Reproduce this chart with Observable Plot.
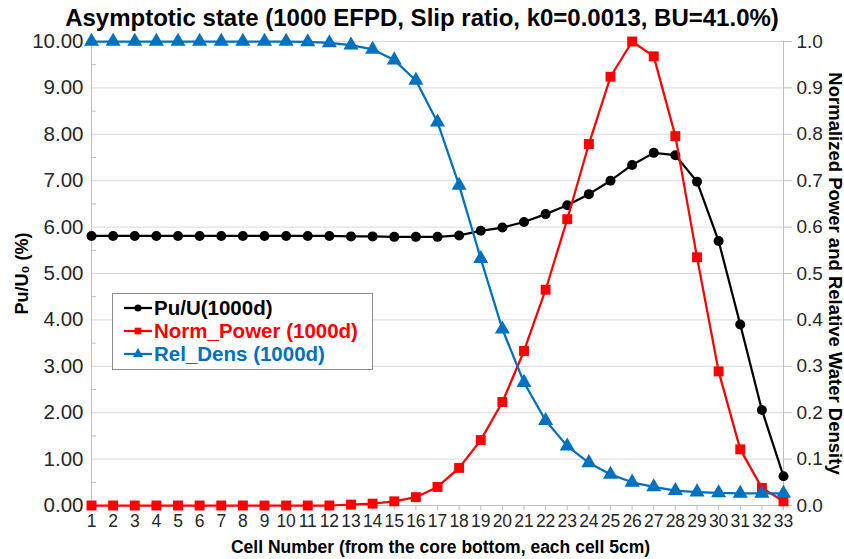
<!DOCTYPE html>
<html>
<head>
<meta charset="utf-8">
<script src="https://cdn.jsdelivr.net/npm/d3@7"></script>
<script src="https://cdn.jsdelivr.net/npm/@observablehq/plot@0.6"></script>
<style>
  body { margin: 0; background: #fff; font-family: "Liberation Sans", Arial, sans-serif; }
  #wrap { position: relative; width: 844px; }
  #title { height: 30px; line-height: 35px; text-align: center; font-weight: bold; font-size: 24px; color: #000; white-space: nowrap; }
  #legend { position: absolute; left: 112px; top: 293px; width: 259px; height: 73px; border: 1px solid #8c8c8c; background: #fff; padding-top: 2px; box-sizing: content-box; }
  .row { height: 23px; display: flex; align-items: center; font-weight: bold; font-size: 20.5px; padding-left: 10px; white-space: nowrap; }
  .row svg { margin-right: 1px; }
</style>
</head>
<body>
<div id="wrap">
  <div id="title">Asymptotic state (1000 EFPD, Slip ratio, k0=0.0013, BU=41.0%)</div>
  <div id="chart"></div>
  <div id="legend"></div>
</div>
<script>
// ---- data ----
const cells = [1,2,3,4,5,6,7,8,9,10,11,12,13,14,15,16,17,18,19,20,21,22,23,24,25,26,27,28,29,30,31,32,33];
const puU = [5.81,5.81,5.81,5.81,5.81,5.81,5.81,5.81,5.81,5.81,5.81,5.81,5.80,5.80,5.79,5.79,5.79,5.82,5.92,5.99,6.11,6.28,6.47,6.71,7.00,7.34,7.60,7.55,6.98,5.70,3.90,2.06,0.63];
const normPower = [0,0,0,0,0,0,0,0,0,0,0,0,0.002,0.004,0.009,0.018,0.040,0.081,0.141,0.223,0.333,0.465,0.617,0.779,0.924,1.000,0.968,0.796,0.535,0.289,0.121,0.038,0.009];
const relDens = [1,1,1,1,1,1,1,1,1,1,0.999,0.997,0.992,0.983,0.960,0.916,0.826,0.690,0.532,0.380,0.265,0.183,0.128,0.092,0.067,0.050,0.040,0.032,0.029,0.027,0.026,0.026,0.026];
const leftTicks = [0,1,2,3,4,5,6,7,8,9,10];
const leftMinor = [0.5,1.5,2.5,3.5,4.5,5.5,6.5,7.5,8.5,9.5];
const rightTickLabels = ["0.0","0.1","0.2","0.3","0.4","0.5","0.6","0.7","0.8","0.9","1.0"];
const seriesNames = ["Pu/U(1000d)", "Norm_Power (1000d)", "Rel_Dens (1000d)"];
const colors = ["#000000", "#ff0000", "#0070c0"];
const xDomain = [1, 33];
const yDomain = [0, 10];
const titleX = "Cell Number (from the core bottom, each cell 5cm)";
const titleYL = "Pu/U\u2080 (%)";
const titleYR = "Normalized Power and Relative Water Density";

// ---- tables ----
const tPu = cells.map((c, i) => ({c, v: puU[i]}));
const tPow = cells.map((c, i) => ({c, v: normPower[i] * 10}));   // secondary axis -> primary units
const tDen = cells.map((c, i) => ({c, v: relDens[i] * 10}));

const font = "Liberation Sans, Arial, sans-serif";
const axisGray = "#bfbfbf";
const gridGray = "#d9d9d9";

const chart = Plot.plot({
  width: 844,
  height: 529,
  marginTop: 11,
  marginBottom: 54,
  marginLeft: 91,
  marginRight: 61,
  style: {fontFamily: font, fontSize: "16px", color: "#000", background: "#fff", overflow: "visible"},
  x: {domain: xDomain, axis: null},
  y: {domain: yDomain, axis: null},
  marks: [
    Plot.gridY(leftTicks, {stroke: gridGray, strokeOpacity: 1, strokeWidth: 1}),
    Plot.ruleX(xDomain, {stroke: axisGray, strokeWidth: 1}),
    Plot.ruleY([yDomain[0]], {stroke: axisGray, strokeWidth: 1}),
    // left axis
    Plot.axisY(leftTicks, {anchor: "left", tickSize: 0, tickPadding: 8, tickFormat: d => d.toFixed(2), fontSize: 20.5, fill: "#262626", label: null}),
    Plot.axisY(leftMinor, {anchor: "left", tickSize: -5, text: null, stroke: axisGray, label: null}),
    // right axis
    Plot.axisY(leftTicks, {anchor: "right", tickSize: 8, text: null, stroke: axisGray, label: null}),
    Plot.axisY(leftTicks, {anchor: "right", tickSize: 0, tickPadding: 13, tickFormat: d => rightTickLabels[d], fontSize: 19, fill: "#262626", label: null}),
    // x axis
    Plot.axisX(cells, {anchor: "bottom", tickSize: 5, text: null, stroke: axisGray, label: null}),
    Plot.axisX(cells, {anchor: "bottom", tickSize: 0, tickPadding: 9, tickFormat: d => String(d), fontSize: 17.5, fill: "#262626", label: null}),
    // axis titles
    Plot.text([titleX], {text: d => d, frameAnchor: "bottom", textAnchor: "middle", lineAnchor: "middle", dy: 42, dx: 3, fontWeight: "bold", fontSize: 17.5, fill: "#000"}),
    Plot.text([titleYL], {text: d => d, frameAnchor: "left", textAnchor: "middle", lineAnchor: "middle", dx: -69, rotate: -90, fontWeight: "bold", fontSize: 18, fill: "#000"}),
    Plot.text([titleYR], {text: d => d, frameAnchor: "right", textAnchor: "middle", lineAnchor: "middle", dx: 51, rotate: 90, fontWeight: "bold", fontSize: 18.5, fill: "#000"}),
    // series
    Plot.line(tPu, {x: "c", y: "v", stroke: colors[0], strokeWidth: 2.25}),
    Plot.dot(tPu, {x: "c", y: "v", fill: colors[0], stroke: "none", r: 5, symbol: "circle"}),
    Plot.line(tPow, {x: "c", y: "v", stroke: colors[1], strokeWidth: 2.25}),
    Plot.dot(tPow, {x: "c", y: "v", fill: colors[1], stroke: "none", r: 5.6, symbol: "square"}),
    Plot.line(tDen, {x: "c", y: "v", stroke: colors[2], strokeWidth: 2.25}),
    Plot.dot(tDen, {x: "c", y: "v", fill: colors[2], stroke: "none", r: 5.6, symbol: "triangle"})
  ]
});
document.getElementById("chart").appendChild(chart);

// ---- legend ----
const legend = document.getElementById("legend");
seriesNames.forEach((name, i) => {
  const row = document.createElement("div");
  row.className = "row";
  row.style.color = colors[i];
  const sym = d3.symbol(i === 0 ? d3.symbolCircle : i === 1 ? d3.symbolSquare : d3.symbolTriangle, i === 0 ? 40 : 45)();
  row.innerHTML = `<svg width="30" height="14"><line x1="1" x2="29" y1="7" y2="7" stroke="${colors[i]}" stroke-width="2.25"/><path transform="translate(15,7)" d="${sym}" fill="${colors[i]}"/></svg><span>${name}</span>`;
  legend.appendChild(row);
});
</script>
</body>
</html>
